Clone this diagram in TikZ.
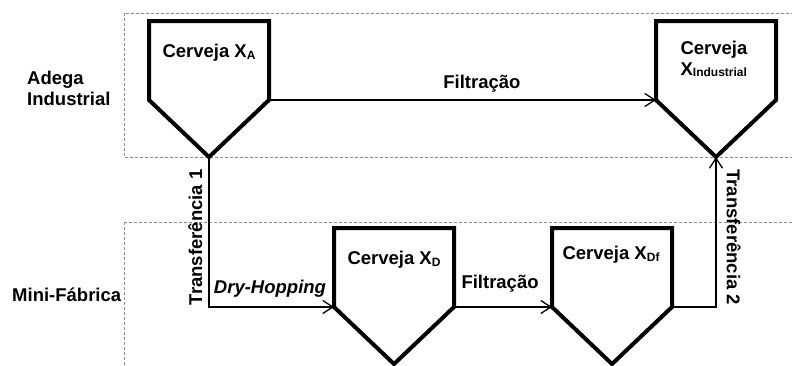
\documentclass[tikz,border=0pt]{standalone}
\usepackage{fontspec}
\setmainfont{Liberation Sans}
\usetikzlibrary{arrows.meta}
\newcommand{\indice}[1]{\raisebox{-1.5pt}{\fontsize{12}{12}\selectfont #1}}

\begin{document}
\begin{tikzpicture}[x=1pt,y=-1pt,
	tanque/.style={line width=4pt, line join=miter},
	seta/.style={line width=1.3pt, -{Straight Barb[length=10pt,width=13pt]}},
	zona/.style={black!45, dash pattern=on 3pt off 2pt, line width=1pt},
	rotulo/.style={font=\fontsize{18.5}{21}\selectfont\bfseries, inner sep=0pt},
	pics/tanque/.style={code={
		\draw[tanque] (-60,0) -- (60,0) -- (60,79) coordinate (-r)
			-- (0,136) coordinate (-tip) -- (-60,79) coordinate (-l) -- cycle;
	}}]
	\useasboundingbox (0,0) rectangle (792,365);
	\clip (0,0) rectangle (792,365);
	% zonas
	\draw[zona] (124,13) rectangle (800,157);
	\draw[zona] (124,222) rectangle (800,380);
	\node[rotulo, anchor=west, align=left] (adega) at (27,88) {Adega\\Industrial};
	\node[rotulo, anchor=west] (mini) at (12,295) {Mini-Fábrica};
	% tanques
	\pic (A) at (209,21) {tanque};
	\pic (I) at (716,21) {tanque};
	\pic (D) at (394,228) {tanque};
	\pic (Df) at (612,228) {tanque};
	\node[rotulo] (tA) at (209,53) {Cerveja X\indice{A}};
	\node[rotulo, align=left] (tI) at (714,59) {Cerveja\\X\indice{Industrial}};
	\node[rotulo] (tD) at (394,260) {Cerveja X\indice{D}};
	\node[rotulo] (tDf) at (611,255) {Cerveja X\indice{Df}};
	% setas
	\draw[seta] (A-r) -- node[rotulo, pos=0.55, above=7pt] (f1) {Filtração} (I-l);
	\draw[seta] (A-tip) |- node[rotulo, pos=0.268, rotate=90, anchor=south, inner ysep=6pt] (t1) {Transferência 1}
		node[rotulo, pos=0.744, above=9pt, font=\fontsize{18.5}{21}\selectfont\bfseries\itshape] (dh) {Dry-Hopping} (D-l);
	\draw[seta] (D-r) -- node[rotulo, pos=0.47, above=14pt] (f2) {Filtração} (Df-l);
	\draw[seta] (Df-r) -| node[rotulo, pos=0.733, rotate=-90, anchor=south, inner ysep=10pt] (t2) {Transferência 2} (I-tip);
\end{tikzpicture}
\end{document}
